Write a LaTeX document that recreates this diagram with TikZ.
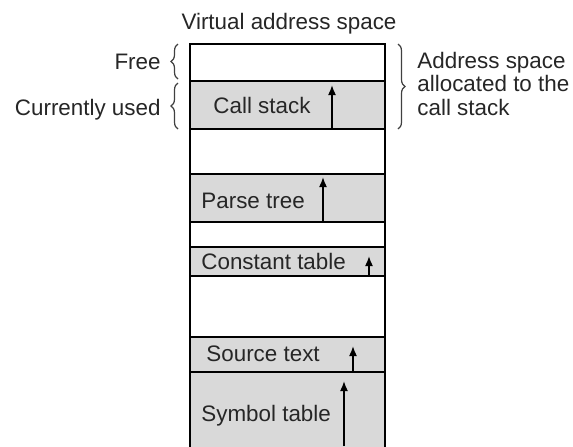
\documentclass[tikz,border=0pt]{standalone}
\usepackage{fontspec}
\setmainfont{Liberation Sans}
\usetikzlibrary{arrows.meta, decorations.pathreplacing}

\begin{document}
\begin{tikzpicture}[x=0.5pt, y=-0.5pt,
        txt/.style={text=black!85, inner sep=0pt, font=\fontsize{11.2}{11.75}\selectfont},
        seg/.style={draw, line width=1.1pt, fill=black!15},
        up/.style={-{Latex[length=5pt, width=4pt]}, line width=0.8pt},
        brace/.style={decorate, decoration={brace, amplitude=3.5pt}, line width=0.6pt, draw=black!75}]
        \useasboundingbox (0, 0) rectangle (573, 446);
        \clip (0, 0) rectangle (573, 446);

        % memory segments
        \foreach \top/\bot in {81/129, 174/222, 247/276, 337/372, 372/460}
            \draw[seg] (190, \top) rectangle (385, \bot);
        \draw[line width=1.1pt] (190, 460) -- (190, 44) -- (385, 44) -- (385, 460);

        \node[txt, anchor=base] (title) at (289, 29) {Virtual address space};
        \node[txt, anchor=base west] (callstack) at (213, 113) {Call stack};
        \node[txt, anchor=base west] (parsetree) at (201, 208) {Parse tree};
        \node[txt, anchor=base west] (consttable) at (201, 269) {Constant table};
        \node[txt, anchor=base west] (sourcetext) at (206, 361) {Source text};
        \node[txt, anchor=base west] (symtable) at (201, 421) {Symbol table};

        \node[txt, anchor=base east] (free) at (161, 69) {Free};
        \node[txt, anchor=base east] (used) at (161, 115) {Currently used};
        \node[txt, anchor=base west, align=left] (alloc) at (417, 115) {Address space\\allocated to the\\call stack};

        % growth arrows
        \coordinate (cs-b) at (332, 129);   \coordinate (cs-t) at (332, 85);
        \coordinate (pt-b) at (323, 222);   \coordinate (pt-t) at (323, 177);
        \coordinate (ct-b) at (369, 276);   \coordinate (ct-t) at (369, 256);
        \coordinate (st-b) at (353, 372);   \coordinate (st-t) at (353, 346);
        \coordinate (sy-b) at (344, 446);   \coordinate (sy-t) at (344, 381);
        \draw[up] (cs-b) -- (cs-t);
        \draw[up] (pt-b) -- (pt-t);
        \draw[up] (ct-b) -- (ct-t);
        \draw[up] (st-b) -- (st-t);
        \draw[up] (sy-b) -- (sy-t);

        % braces
        \coordinate (fr-t) at (178, 44);   \coordinate (fr-b) at (178, 79);
        \coordinate (us-t) at (178, 83);   \coordinate (us-b) at (178, 129);
        \coordinate (al-t) at (398, 44);   \coordinate (al-b) at (398, 129);
        \draw[brace] (fr-b) -- (fr-t);
        \draw[brace] (us-b) -- (us-t);
        \draw[brace] (al-t) -- (al-b);
\end{tikzpicture}
\end{document}
